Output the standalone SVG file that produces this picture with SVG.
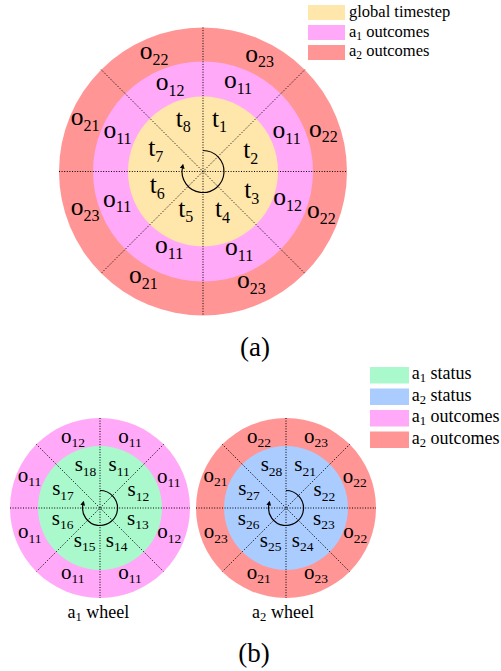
<svg xmlns="http://www.w3.org/2000/svg" width="501" height="671" viewBox="0 0 501 671">
<style>
.bg{fill:#ffffff}
.yel{fill:#FFE6AB}
.pnk{fill:#FFA9F8}
.sal{fill:#FF9595}
.grn{fill:#A9F9CC}
.blu{fill:#AACCFF}
text{fill:#000}
.L{font-size:25.5px;text-anchor:middle}
.L .s{font-size:16px}
.M{font-size:21px;text-anchor:middle}
.M .s{font-size:13.5px}
.lg1{font-size:16.5px}
.lg1 .s{font-size:11.5px}
.lg2{font-size:18px}
.lg2 .s{font-size:12.6px}
.cap{font-size:27px;text-anchor:middle}
.wl{font-size:18px;text-anchor:middle}
.wl .s{font-size:12.6px}
.dot{stroke:#000;stroke-width:1;stroke-dasharray:1 1.6;fill:none}
.arc{stroke:#000;stroke-width:1.2;fill:none;marker-end:url(#ah)}
</style>
<defs>
<marker id="ah" viewBox="0 0 10 10" refX="2" refY="5" markerWidth="4" markerHeight="4" orient="auto" markerUnits="strokeWidth">
<path d="M0,0 L10,5 L0,10 z" fill="#000"/>
</marker>
</defs>
<rect class="bg" x="0" y="0" width="501" height="671"/>

<g id="wheel-a">
<circle class="sal" cx="203" cy="171.5" r="144"/>
<circle class="pnk" cx="203" cy="171.5" r="110"/>
<circle class="yel" cx="203" cy="171.5" r="75"/>
</g>

<g id="wheel-a1">
<circle class="pnk" cx="100" cy="508" r="90"/>
<circle class="grn" cx="100" cy="508" r="62"/>
</g>

<g id="wheel-a2">
<circle class="sal" cx="286" cy="508" r="90"/>
<circle class="blu" cx="286" cy="508" r="62"/>
</g>

<g id="connectors">
<line class="dot" x1="203" y1="27.5" x2="203" y2="315.5"/>
<line class="dot" x1="59" y1="171.5" x2="347" y2="171.5"/>
<line class="dot" x1="101.2" y1="69.7" x2="304.8" y2="273.3"/>
<line class="dot" x1="304.8" y1="69.7" x2="101.2" y2="273.3"/>
<path class="arc" d="M203,150.5 A21,21 0 1 1 182.4,167.5"/>

<line class="dot" x1="100" y1="418" x2="100" y2="598"/>
<line class="dot" x1="10" y1="508" x2="190" y2="508"/>
<line class="dot" x1="36.4" y1="444.4" x2="163.6" y2="571.6"/>
<line class="dot" x1="163.6" y1="444.4" x2="36.4" y2="571.6"/>
<path class="arc" d="M100,490.5 A17.5,17.5 0 1 1 82.9,504.4"/>

<line class="dot" x1="286" y1="418" x2="286" y2="598"/>
<line class="dot" x1="196" y1="508" x2="376" y2="508"/>
<line class="dot" x1="222.4" y1="444.4" x2="349.6" y2="571.6"/>
<line class="dot" x1="349.6" y1="444.4" x2="222.4" y2="571.6"/>
<path class="arc" d="M286,490.5 A17.5,17.5 0 1 1 268.9,504.4"/>
</g>

<g font-family="'Liberation Serif', 'Times New Roman', serif">
<g id="labels-a">
<text class="L" x="154.2" y="59">o<tspan class="s" dy="5.5">22</tspan></text>
<text class="L" x="259.5" y="61.7">o<tspan class="s" dy="5.5">23</tspan></text>
<text class="L" x="170" y="90">o<tspan class="s" dy="5.5">12</tspan></text>
<text class="L" x="238" y="88.3">o<tspan class="s" dy="5.5">11</tspan></text>
<text class="L" x="183.3" y="126.7">t<tspan class="s" dy="5.5">8</tspan></text>
<text class="L" x="219.5" y="126.7">t<tspan class="s" dy="5.5">1</tspan></text>
<text class="L" x="85" y="125">o<tspan class="s" dy="5.5">21</tspan></text>
<text class="L" x="117.5" y="138.3">o<tspan class="s" dy="5.5">11</tspan></text>
<text class="L" x="155.8" y="156">t<tspan class="s" dy="5.5">7</tspan></text>
<text class="L" x="250.8" y="158.3">t<tspan class="s" dy="5.5">2</tspan></text>
<text class="L" x="286.7" y="138.3">o<tspan class="s" dy="5.5">11</tspan></text>
<text class="L" x="323.3" y="136.7">o<tspan class="s" dy="5.5">22</tspan></text>
<text class="L" x="157.2" y="193">t<tspan class="s" dy="5.5">6</tspan></text>
<text class="L" x="251.7" y="198">t<tspan class="s" dy="5.5">3</tspan></text>
<text class="L" x="117.2" y="206.7">o<tspan class="s" dy="5.5">11</tspan></text>
<text class="L" x="287.5" y="205">o<tspan class="s" dy="5.5">12</tspan></text>
<text class="L" x="85" y="215">o<tspan class="s" dy="5.5">23</tspan></text>
<text class="L" x="321.3" y="218.3">o<tspan class="s" dy="5.5">22</tspan></text>
<text class="L" x="185.8" y="216.5">t<tspan class="s" dy="5.5">5</tspan></text>
<text class="L" x="222.5" y="217">t<tspan class="s" dy="5.5">4</tspan></text>
<text class="L" x="169.2" y="253.3">o<tspan class="s" dy="5.5">11</tspan></text>
<text class="L" x="239.2" y="255">o<tspan class="s" dy="5.5">11</tspan></text>
<text class="L" x="143.3" y="283.3">o<tspan class="s" dy="5.5">21</tspan></text>
<text class="L" x="251.3" y="288.3">o<tspan class="s" dy="5.5">23</tspan></text>
</g>

<g id="legend-a">
<rect class="yel" x="308" y="5" width="37" height="15"/>
<rect class="pnk" x="308" y="25" width="37" height="15"/>
<rect class="sal" x="308" y="45" width="37" height="15"/>
<text class="lg1" x="349" y="17.3">global timestep</text>
<text class="lg1" x="349" y="36.7">a<tspan class="s" dy="2.8">1</tspan><tspan dy="-2.8"> outcomes</tspan></text>
<text class="lg1" x="349" y="56">a<tspan class="s" dy="2.8">2</tspan><tspan dy="-2.8"> outcomes</tspan></text>
</g>

<text id="cap-a" class="cap" x="255" y="356">(a)</text>

<g id="labels-a1">
<text class="M" x="73" y="442.5">o<tspan class="s" dy="4.5">12</tspan></text>
<text class="M" x="130" y="442.5">o<tspan class="s" dy="4.5">11</tspan></text>
<text class="M" x="85.5" y="471">s<tspan class="s" dy="4.5">18</tspan></text>
<text class="M" x="119.2" y="471">s<tspan class="s" dy="4.5">11</tspan></text>
<text class="M" x="29.5" y="481.5">o<tspan class="s" dy="4.5">11</tspan></text>
<text class="M" x="63" y="495">s<tspan class="s" dy="4.5">17</tspan></text>
<text class="M" x="138.3" y="496">s<tspan class="s" dy="4.5">12</tspan></text>
<text class="M" x="168.8" y="482.5">o<tspan class="s" dy="4.5">11</tspan></text>
<text class="M" x="62.7" y="524.5">s<tspan class="s" dy="4.5">16</tspan></text>
<text class="M" x="137.8" y="524.5">s<tspan class="s" dy="4.5">13</tspan></text>
<text class="M" x="29.8" y="538">o<tspan class="s" dy="4.5">11</tspan></text>
<text class="M" x="169.2" y="538">o<tspan class="s" dy="4.5">12</tspan></text>
<text class="M" x="84.7" y="546.5">s<tspan class="s" dy="4.5">15</tspan></text>
<text class="M" x="116.7" y="546.5">s<tspan class="s" dy="4.5">14</tspan></text>
<text class="M" x="72.7" y="578.5">o<tspan class="s" dy="4.5">11</tspan></text>
<text class="M" x="130.1" y="578.5">o<tspan class="s" dy="4.5">11</tspan></text>
</g>

<g id="labels-a2">
<text class="M" x="259" y="442.5">o<tspan class="s" dy="4.5">22</tspan></text>
<text class="M" x="316" y="442.5">o<tspan class="s" dy="4.5">23</tspan></text>
<text class="M" x="271.5" y="471">s<tspan class="s" dy="4.5">28</tspan></text>
<text class="M" x="305.2" y="471">s<tspan class="s" dy="4.5">21</tspan></text>
<text class="M" x="215.5" y="481.5">o<tspan class="s" dy="4.5">21</tspan></text>
<text class="M" x="249" y="495">s<tspan class="s" dy="4.5">27</tspan></text>
<text class="M" x="324.3" y="496">s<tspan class="s" dy="4.5">22</tspan></text>
<text class="M" x="354.8" y="482.5">o<tspan class="s" dy="4.5">22</tspan></text>
<text class="M" x="248.7" y="524.5">s<tspan class="s" dy="4.5">26</tspan></text>
<text class="M" x="323.8" y="524.5">s<tspan class="s" dy="4.5">23</tspan></text>
<text class="M" x="215.8" y="538">o<tspan class="s" dy="4.5">23</tspan></text>
<text class="M" x="355.2" y="538">o<tspan class="s" dy="4.5">22</tspan></text>
<text class="M" x="270.7" y="546.5">s<tspan class="s" dy="4.5">25</tspan></text>
<text class="M" x="302.7" y="546.5">s<tspan class="s" dy="4.5">24</tspan></text>
<text class="M" x="258.7" y="578.5">o<tspan class="s" dy="4.5">21</tspan></text>
<text class="M" x="316.1" y="578.5">o<tspan class="s" dy="4.5">23</tspan></text>
</g>

<g id="legend-b">
<rect class="grn" x="370" y="367" width="39" height="16.5"/>
<rect class="blu" x="370" y="388.5" width="39" height="16.5"/>
<rect class="pnk" x="370" y="410" width="39" height="16.5"/>
<rect class="sal" x="370" y="431.5" width="39" height="16.5"/>
<text class="lg2" x="411.7" y="379.3">a<tspan class="s" dy="3">1</tspan><tspan dy="-3"> status</tspan></text>
<text class="lg2" x="411.7" y="400.8">a<tspan class="s" dy="3">2</tspan><tspan dy="-3"> status</tspan></text>
<text class="lg2" x="411.7" y="422.3">a<tspan class="s" dy="3">1</tspan><tspan dy="-3"> outcomes</tspan></text>
<text class="lg2" x="411.7" y="443.8">a<tspan class="s" dy="3">2</tspan><tspan dy="-3"> outcomes</tspan></text>
</g>

<text class="wl" x="98.3" y="618">a<tspan class="s" dy="3">1</tspan><tspan dy="-3"> wheel</tspan></text>
<text class="wl" x="283" y="618">a<tspan class="s" dy="3">2</tspan><tspan dy="-3"> wheel</tspan></text>
<text id="cap-b" class="cap" x="254" y="662">(b)</text>
</g>
</svg>
